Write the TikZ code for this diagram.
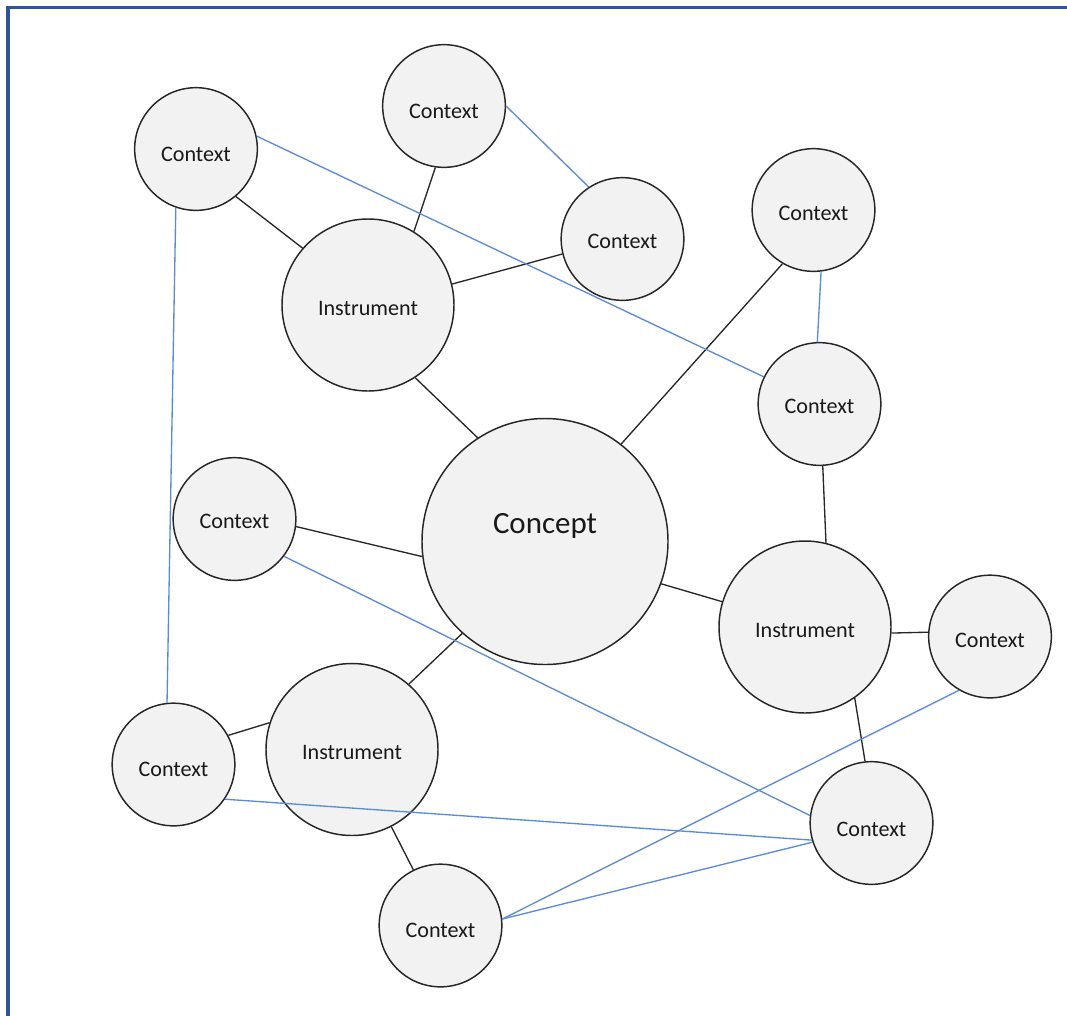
\documentclass[tikz,border=0pt]{standalone}
\usepackage{fontspec}
\setmainfont{Carlito}
\definecolor{frameblue}{HTML}{2F5597}
\definecolor{edgeblue}{HTML}{5B8AD8}
\definecolor{nodefill}{HTML}{F2F2F2}
\definecolor{darkline}{HTML}{262626}
\begin{document}
\begin{tikzpicture}[x=0.75pt,y=-0.75pt,
  circ/.style={circle,draw=darkline,line width=1.1pt,fill=nodefill,inner sep=0pt},
  ctx/.style={circ,minimum size=92pt},
  inst/.style={circ,minimum size=129pt},
  conc/.style={circ,minimum size=184.5pt},
  txt/.style={font=\fontsize{16.6}{19}\selectfont,inner sep=0pt,text=black!90},
  bigtxt/.style={font=\fontsize{23.2}{27}\selectfont,inner sep=0pt,text=black!90},
  blk/.style={draw=darkline,line width=1pt},
  blu/.style={draw=edgeblue,line width=1pt}]
\useasboundingbox (0,0) rectangle (1067,1015);
\draw[frameblue,line width=2.6pt] (8,1030) -- (8,7.5) -- (1080,7.5);

% nodes
\node[ctx,label={[txt,yshift=-3.75pt]center:Context}] (A) at (196,149) {};
\node[ctx,label={[txt,yshift=-3.75pt]center:Context}] (B) at (444,106) {};
\node[ctx,label={[txt,yshift=-1.5pt]center:Context}] (C) at (622.5,239) {};
\node[ctx,label={[txt,yshift=-2.25pt]center:Context}] (D) at (813.5,210) {};
\node[inst,label={[txt,yshift=-2.25pt]center:Instrument}] (I1) at (368,305) {};
\node[ctx,label={[txt,yshift=-1.5pt]center:Context}] (E) at (819.5,404) {};
\node[conc,label={[bigtxt,yshift=12pt]center:Concept}] (P) at (545,541.5) {};
\node[ctx,label={[txt,yshift=-1.5pt]center:Context}] (F) at (234.5,519) {};
\node[inst,label={[txt,yshift=-2.6pt]center:Instrument}] (I2) at (805,627) {};
\node[ctx,label={[txt,yshift=-2.6pt]center:Context}] (G) at (990,636.5) {};
\node[inst,label={[txt,yshift=-2.25pt]center:Instrument}] (I3) at (352,749.5) {};
\node[ctx,label={[txt,yshift=-3.4pt]center:Context}] (H) at (173.5,764.5) {};
\node[ctx,label={[txt,yshift=-4.5pt]center:Context}] (J) at (871.5,823) {};
\node[ctx,label={[txt,yshift=-3.4pt]center:Context}] (K) at (440.5,925.5) {};

% black connectors
\draw[blk] (A.-50.9) -- (I1.139.2);
\draw[blk] (B.-98) -- (I1.58.4);
\draw[blk] (C.-166.1) -- (I1.14.8);
\draw[blk] (I1.-57) -- (P.123.8);
\draw[blk] (D.-120.4) -- (P.52.4);
\draw[blk] (F.-7.4) -- (P.187.2);
\draw[blk] (P.-20.4) -- (I2.163.5);
\draw[blk] (E.-87.7) -- (I2.76.3);
\draw[blk] (I2.-4) -- (G.176.2);
\draw[blk] (I2.-55.6) -- (J.96.1);
\draw[blk] (P.-132.5) -- (I3.49.5);
\draw[blk] (H.28.5) -- (I3.162);
\draw[blk] (I3.-63.9) -- (K.116.6);

% blue connectors
\draw[blu] (B.-0.9) -- (C.123.8);
\draw[blu] (A.12) -- (E.154.9);
\draw[blu] (A.-109.3) -- (H.96.1);
\draw[blu] (D.-83.9) -- (E.92.3);
\draw[blu] (F.-37.5) -- (J.173.5);
\draw[blu] (H.-34.4) -- (J.196);
\draw[blu] (K.6.5) -- (J.198.6);
\draw[blu] (K.6.5) -- (G.-120.6);
\end{tikzpicture}
\end{document}
